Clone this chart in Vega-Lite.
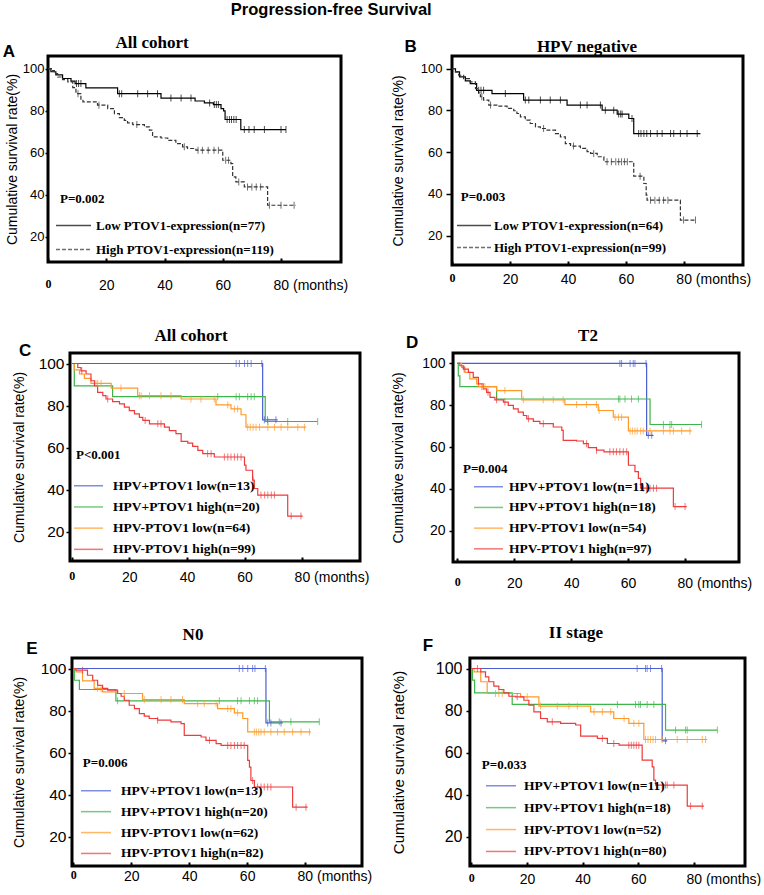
{
"$schema": "https://vega.github.io/schema/vega-lite/v6.json",
"padding": {"left": 2, "top": 2, "right": 0, "bottom": 0},
"background": "white",
"title": {"text": "Progression-free Survival", "font": "Liberation Sans", "fontSize": 16.5, "fontWeight": "bold", "anchor": "start", "frame": "bounds", "dx": 228, "offset": 2, "color": "black", "baseline": "alphabetic"},
"resolve": {"scale": {"color": "independent", "strokeDash": "independent"}, "legend": {"color": "independent", "strokeDash": "independent"}},
"datasets": {
"km": [
{"p":"A","g":"lo","t":0,"s":100},{"p":"A","g":"lo","t":1,"s":98.5},{"p":"A","g":"lo","t":2.7,"s":97},{"p":"A","g":"lo","t":5,"s":95.3},{"p":"A","g":"lo","t":7.9,"s":94},{"p":"A","g":"lo","t":9.3,"s":92.9},{"p":"A","g":"lo","t":13,"s":90.8},{"p":"A","g":"lo","t":23.9,"s":88.1},{"p":"A","g":"lo","t":38.8,"s":86},{"p":"A","g":"lo","t":50.5,"s":84.6},{"p":"A","g":"lo","t":53.7,"s":83.7},{"p":"A","g":"lo","t":56.8,"s":82.9},{"p":"A","g":"lo","t":59.4,"s":81},{"p":"A","g":"lo","t":60.3,"s":79.9},{"p":"A","g":"lo","t":60.8,"s":75.8},{"p":"A","g":"lo","t":66.2,"s":71},{"p":"A","g":"lo","t":81.7,"s":71},
{"p":"A","g":"hi","t":0,"s":100},{"p":"A","g":"hi","t":1.5,"s":99},{"p":"A","g":"hi","t":2.2,"s":97.6},{"p":"A","g":"hi","t":3.3,"s":96},{"p":"A","g":"hi","t":5,"s":94.8},{"p":"A","g":"hi","t":6.8,"s":93.7},{"p":"A","g":"hi","t":8.5,"s":91},{"p":"A","g":"hi","t":9.6,"s":88.1},{"p":"A","g":"hi","t":11.3,"s":85.5},{"p":"A","g":"hi","t":12,"s":84.2},{"p":"A","g":"hi","t":17,"s":82.6},{"p":"A","g":"hi","t":20.5,"s":81},{"p":"A","g":"hi","t":22.8,"s":78.6},{"p":"A","g":"hi","t":24.5,"s":76.7},{"p":"A","g":"hi","t":26.2,"s":75.4},{"p":"A","g":"hi","t":27.3,"s":74.2},{"p":"A","g":"hi","t":29.1,"s":73.4},{"p":"A","g":"hi","t":33.1,"s":72.3},{"p":"A","g":"hi","t":34.8,"s":70.7},{"p":"A","g":"hi","t":35.9,"s":67.5},{"p":"A","g":"hi","t":38.8,"s":67},{"p":"A","g":"hi","t":41.1,"s":65.9},{"p":"A","g":"hi","t":43.9,"s":64.3},{"p":"A","g":"hi","t":46.2,"s":62.8},{"p":"A","g":"hi","t":47.9,"s":62},{"p":"A","g":"hi","t":50.8,"s":61.2},{"p":"A","g":"hi","t":60,"s":56.4},{"p":"A","g":"hi","t":62.8,"s":54.8},{"p":"A","g":"hi","t":63.4,"s":48.5},{"p":"A","g":"hi","t":64.5,"s":46.1},{"p":"A","g":"hi","t":67.4,"s":43.7},{"p":"A","g":"hi","t":75.4,"s":35},{"p":"A","g":"hi","t":85.1,"s":35},
{"p":"B","g":"lo","t":0,"s":100},{"p":"B","g":"lo","t":1.2,"s":98.4},{"p":"B","g":"lo","t":2.6,"s":96},{"p":"B","g":"lo","t":4.6,"s":94.1},{"p":"B","g":"lo","t":6.3,"s":92.8},{"p":"B","g":"lo","t":8.5,"s":89.6},{"p":"B","g":"lo","t":13.8,"s":88},{"p":"B","g":"lo","t":24.7,"s":84.9},{"p":"B","g":"lo","t":39.7,"s":82.5},{"p":"B","g":"lo","t":51.8,"s":80.1},{"p":"B","g":"lo","t":57,"s":78.2},{"p":"B","g":"lo","t":61,"s":76.1},{"p":"B","g":"lo","t":62.7,"s":68.9},{"p":"B","g":"lo","t":85.7,"s":68.9},
{"p":"B","g":"hi","t":0,"s":100},{"p":"B","g":"hi","t":1.2,"s":98.4},{"p":"B","g":"hi","t":2.3,"s":96.8},{"p":"B","g":"hi","t":4,"s":95.2},{"p":"B","g":"hi","t":6.3,"s":93.6},{"p":"B","g":"hi","t":8.1,"s":90.4},{"p":"B","g":"hi","t":9.2,"s":88.4},{"p":"B","g":"hi","t":9.8,"s":86.5},{"p":"B","g":"hi","t":10.9,"s":84.9},{"p":"B","g":"hi","t":12.7,"s":82.5},{"p":"B","g":"hi","t":15.5,"s":82},{"p":"B","g":"hi","t":19,"s":80.9},{"p":"B","g":"hi","t":21.3,"s":79.8},{"p":"B","g":"hi","t":22.4,"s":78.5},{"p":"B","g":"hi","t":23.6,"s":76.9},{"p":"B","g":"hi","t":25.3,"s":75.3},{"p":"B","g":"hi","t":27,"s":73.7},{"p":"B","g":"hi","t":28.8,"s":72.1},{"p":"B","g":"hi","t":30.5,"s":71.3},{"p":"B","g":"hi","t":32.8,"s":70.5},{"p":"B","g":"hi","t":35.7,"s":68.9},{"p":"B","g":"hi","t":37.4,"s":67.3},{"p":"B","g":"hi","t":39.1,"s":64.1},{"p":"B","g":"hi","t":40.9,"s":62.9},{"p":"B","g":"hi","t":44.3,"s":61.8},{"p":"B","g":"hi","t":46.6,"s":60.2},{"p":"B","g":"hi","t":47.8,"s":59.4},{"p":"B","g":"hi","t":50.1,"s":57.8},{"p":"B","g":"hi","t":52.4,"s":55.4},{"p":"B","g":"hi","t":62.7,"s":48.5},{"p":"B","g":"hi","t":66.2,"s":45},{"p":"B","g":"hi","t":67,"s":39.4},{"p":"B","g":"hi","t":67.3,"s":37},{"p":"B","g":"hi","t":78.8,"s":27.5},{"p":"B","g":"hi","t":84,"s":27.5},
{"p":"C","g":"plo","t":0,"s":100},{"p":"C","g":"plo","t":66.3,"s":73.2},{"p":"C","g":"plo","t":71.5,"s":73.2},
{"p":"C","g":"phi","t":0,"s":100},{"p":"C","g":"phi","t":0.9,"s":89.4},{"p":"C","g":"phi","t":14.2,"s":84.2},{"p":"C","g":"phi","t":67.2,"s":72.4},{"p":"C","g":"phi","t":85.4,"s":72.4},
{"p":"C","g":"nlo","t":0,"s":100},{"p":"C","g":"nlo","t":0.9,"s":97},{"p":"C","g":"nlo","t":2.7,"s":95},{"p":"C","g":"nlo","t":4.4,"s":92.9},{"p":"C","g":"nlo","t":6.7,"s":90.5},{"p":"C","g":"nlo","t":13.7,"s":88.3},{"p":"C","g":"nlo","t":22.9,"s":84.7},{"p":"C","g":"nlo","t":38,"s":83.1},{"p":"C","g":"nlo","t":50.1,"s":80.3},{"p":"C","g":"nlo","t":55.3,"s":78.4},{"p":"C","g":"nlo","t":58.8,"s":75.6},{"p":"C","g":"nlo","t":60.5,"s":69.7},{"p":"C","g":"nlo","t":81.4,"s":69.7},
{"p":"C","g":"nhi","t":0,"s":100},{"p":"C","g":"nhi","t":2.1,"s":98.1},{"p":"C","g":"nhi","t":3.2,"s":96.5},{"p":"C","g":"nhi","t":5,"s":95},{"p":"C","g":"nhi","t":6.7,"s":91.8},{"p":"C","g":"nhi","t":7.9,"s":89.4},{"p":"C","g":"nhi","t":9,"s":86.3},{"p":"C","g":"nhi","t":10.8,"s":84.7},{"p":"C","g":"nhi","t":11.9,"s":83.1},{"p":"C","g":"nhi","t":14.2,"s":81.9},{"p":"C","g":"nhi","t":16.6,"s":80.8},{"p":"C","g":"nhi","t":18.3,"s":79.2},{"p":"C","g":"nhi","t":20,"s":77.6},{"p":"C","g":"nhi","t":21.8,"s":76},{"p":"C","g":"nhi","t":23.5,"s":74.4},{"p":"C","g":"nhi","t":24.7,"s":72.9},{"p":"C","g":"nhi","t":27,"s":71.3},{"p":"C","g":"nhi","t":32.2,"s":69.7},{"p":"C","g":"nhi","t":33.9,"s":68.1},{"p":"C","g":"nhi","t":36.2,"s":66.6},{"p":"C","g":"nhi","t":38,"s":62.9},{"p":"C","g":"nhi","t":40.3,"s":62.1},{"p":"C","g":"nhi","t":42,"s":60.6},{"p":"C","g":"nhi","t":43.8,"s":58.7},{"p":"C","g":"nhi","t":45.5,"s":57.1},{"p":"C","g":"nhi","t":49.5,"s":55.5},{"p":"C","g":"nhi","t":60,"s":51.6},{"p":"C","g":"nhi","t":60.5,"s":49.2},{"p":"C","g":"nhi","t":62.8,"s":44.5},{"p":"C","g":"nhi","t":63.4,"s":40.5},{"p":"C","g":"nhi","t":64.6,"s":37.4},{"p":"C","g":"nhi","t":75,"s":27.4},{"p":"C","g":"nhi","t":80.2,"s":27.4},
{"p":"D","g":"plo","t":0,"s":100},{"p":"D","g":"plo","t":66.5,"s":65.6},{"p":"D","g":"plo","t":68.9,"s":65.6},
{"p":"D","g":"phi","t":0,"s":100},{"p":"D","g":"phi","t":0.35,"s":94.1},{"p":"D","g":"phi","t":0.9,"s":88.9},{"p":"D","g":"phi","t":13.8,"s":83},{"p":"D","g":"phi","t":67.7,"s":70.8},{"p":"D","g":"phi","t":85.8,"s":70.8},
{"p":"D","g":"nlo","t":0,"s":100},{"p":"D","g":"nlo","t":1.5,"s":98.1},{"p":"D","g":"nlo","t":2.7,"s":95.7},{"p":"D","g":"nlo","t":4.4,"s":92.6},{"p":"D","g":"nlo","t":6.8,"s":90.2},{"p":"D","g":"nlo","t":7.4,"s":88.9},{"p":"D","g":"nlo","t":13.8,"s":87},{"p":"D","g":"nlo","t":22.6,"s":82.6},{"p":"D","g":"nlo","t":37.8,"s":80.3},{"p":"D","g":"nlo","t":49.5,"s":77.5},{"p":"D","g":"nlo","t":54.8,"s":74.3},{"p":"D","g":"nlo","t":60.1,"s":67.7},{"p":"D","g":"nlo","t":82.3,"s":67.7},
{"p":"D","g":"nhi","t":0,"s":100},{"p":"D","g":"nhi","t":0.9,"s":98.9},{"p":"D","g":"nhi","t":2.1,"s":97.3},{"p":"D","g":"nhi","t":3.9,"s":95.7},{"p":"D","g":"nhi","t":5.6,"s":93.3},{"p":"D","g":"nhi","t":7.4,"s":90.2},{"p":"D","g":"nhi","t":9.1,"s":87.8},{"p":"D","g":"nhi","t":10.3,"s":86.2},{"p":"D","g":"nhi","t":11.5,"s":83.8},{"p":"D","g":"nhi","t":13.2,"s":82.6},{"p":"D","g":"nhi","t":16.2,"s":81.5},{"p":"D","g":"nhi","t":17.9,"s":79.9},{"p":"D","g":"nhi","t":19.7,"s":78.3},{"p":"D","g":"nhi","t":21.4,"s":76.7},{"p":"D","g":"nhi","t":23.2,"s":75.1},{"p":"D","g":"nhi","t":24.4,"s":73.5},{"p":"D","g":"nhi","t":26.7,"s":72.3},{"p":"D","g":"nhi","t":29,"s":71.2},{"p":"D","g":"nhi","t":33.7,"s":69.6},{"p":"D","g":"nhi","t":36.7,"s":68},{"p":"D","g":"nhi","t":37.2,"s":63.2},{"p":"D","g":"nhi","t":41.9,"s":62.9},{"p":"D","g":"nhi","t":44.3,"s":61.6},{"p":"D","g":"nhi","t":46,"s":59.7},{"p":"D","g":"nhi","t":48.9,"s":58.5},{"p":"D","g":"nhi","t":51.5,"s":57.7},{"p":"D","g":"nhi","t":60.1,"s":51.3},{"p":"D","g":"nhi","t":62.4,"s":48.2},{"p":"D","g":"nhi","t":63.6,"s":45},{"p":"D","g":"nhi","t":64.4,"s":40.3},{"p":"D","g":"nhi","t":75.9,"s":31.5},{"p":"D","g":"nhi","t":80.6,"s":31.5},
{"p":"E","g":"plo","t":0,"s":100},{"p":"E","g":"plo","t":66.5,"s":74.1},{"p":"E","g":"plo","t":72.3,"s":74.1},
{"p":"E","g":"phi","t":0,"s":100},{"p":"E","g":"phi","t":0.35,"s":94.4},{"p":"E","g":"phi","t":2.1,"s":90},{"p":"E","g":"phi","t":14.7,"s":84.6},{"p":"E","g":"phi","t":67.7,"s":74.6},{"p":"E","g":"phi","t":84.9,"s":74.6},
{"p":"E","g":"nlo","t":0,"s":100},{"p":"E","g":"nlo","t":0.9,"s":98.4},{"p":"E","g":"nlo","t":3.2,"s":94.1},{"p":"E","g":"nlo","t":7.2,"s":90.5},{"p":"E","g":"nlo","t":10.1,"s":88.9},{"p":"E","g":"nlo","t":14.7,"s":88.1},{"p":"E","g":"nlo","t":23.9,"s":85.2},{"p":"E","g":"nlo","t":38.3,"s":83.3},{"p":"E","g":"nlo","t":49.8,"s":80.9},{"p":"E","g":"nlo","t":55.6,"s":78.9},{"p":"E","g":"nlo","t":58.5,"s":76.2},{"p":"E","g":"nlo","t":60.2,"s":69.8},{"p":"E","g":"nlo","t":82,"s":69.8},
{"p":"E","g":"nhi","t":0,"s":100},{"p":"E","g":"nhi","t":0.9,"s":99.2},{"p":"E","g":"nhi","t":4.9,"s":96.8},{"p":"E","g":"nhi","t":6.7,"s":94.4},{"p":"E","g":"nhi","t":8.4,"s":92},{"p":"E","g":"nhi","t":10.1,"s":90.5},{"p":"E","g":"nhi","t":11.9,"s":89.7},{"p":"E","g":"nhi","t":15.3,"s":88.1},{"p":"E","g":"nhi","t":16.5,"s":86.8},{"p":"E","g":"nhi","t":17.6,"s":84.9},{"p":"E","g":"nhi","t":19.3,"s":82.5},{"p":"E","g":"nhi","t":21.1,"s":80.9},{"p":"E","g":"nhi","t":22.8,"s":78.5},{"p":"E","g":"nhi","t":24.5,"s":77.3},{"p":"E","g":"nhi","t":26.2,"s":76.2},{"p":"E","g":"nhi","t":29.1,"s":75.4},{"p":"E","g":"nhi","t":33.7,"s":74.6},{"p":"E","g":"nhi","t":37.2,"s":73.8},{"p":"E","g":"nhi","t":38.3,"s":68.2},{"p":"E","g":"nhi","t":44.1,"s":67.4},{"p":"E","g":"nhi","t":45.8,"s":65.8},{"p":"E","g":"nhi","t":49.3,"s":64.2},{"p":"E","g":"nhi","t":51,"s":63.4},{"p":"E","g":"nhi","t":60.2,"s":56.3},{"p":"E","g":"nhi","t":60.8,"s":53.1},{"p":"E","g":"nhi","t":61.3,"s":46.7},{"p":"E","g":"nhi","t":62.5,"s":43.6},{"p":"E","g":"nhi","t":75.7,"s":34},{"p":"E","g":"nhi","t":80.9,"s":34},
{"p":"F","g":"plo","t":0,"s":100},{"p":"F","g":"plo","t":68.6,"s":65.6},{"p":"F","g":"plo","t":70.4,"s":65.6},
{"p":"F","g":"phi","t":0,"s":100},{"p":"F","g":"phi","t":0.4,"s":94.5},{"p":"F","g":"phi","t":1.2,"s":88.4},{"p":"F","g":"phi","t":14.7,"s":82.9},{"p":"F","g":"phi","t":69.8,"s":70.7},{"p":"F","g":"phi","t":88.4,"s":70.7},
{"p":"F","g":"nlo","t":0,"s":100},{"p":"F","g":"nlo","t":1,"s":98.4},{"p":"F","g":"nlo","t":3.4,"s":93.7},{"p":"F","g":"nlo","t":5.7,"s":88.1},{"p":"F","g":"nlo","t":17.7,"s":86.5},{"p":"F","g":"nlo","t":24.3,"s":82.1},{"p":"F","g":"nlo","t":42.9,"s":79.4},{"p":"F","g":"nlo","t":51.2,"s":76.2},{"p":"F","g":"nlo","t":56.6,"s":73.9},{"p":"F","g":"nlo","t":62,"s":66.2},{"p":"F","g":"nlo","t":84.8,"s":66.2},
{"p":"F","g":"nhi","t":0,"s":100},{"p":"F","g":"nhi","t":3.4,"s":98.4},{"p":"F","g":"nhi","t":5.1,"s":96},{"p":"F","g":"nhi","t":6.3,"s":93.7},{"p":"F","g":"nhi","t":8.1,"s":91.6},{"p":"F","g":"nhi","t":9.9,"s":90},{"p":"F","g":"nhi","t":11.7,"s":88.4},{"p":"F","g":"nhi","t":13.5,"s":86.8},{"p":"F","g":"nhi","t":15.9,"s":86.5},{"p":"F","g":"nhi","t":18.9,"s":84.9},{"p":"F","g":"nhi","t":20.7,"s":82.6},{"p":"F","g":"nhi","t":22.5,"s":79.4},{"p":"F","g":"nhi","t":24.9,"s":76.2},{"p":"F","g":"nhi","t":27.3,"s":74.6},{"p":"F","g":"nhi","t":32.1,"s":73.9},{"p":"F","g":"nhi","t":37.5,"s":73.1},{"p":"F","g":"nhi","t":39.3,"s":67.8},{"p":"F","g":"nhi","t":45.3,"s":66.7},{"p":"F","g":"nhi","t":48.9,"s":64.3},{"p":"F","g":"nhi","t":53.1,"s":63.5},{"p":"F","g":"nhi","t":61.4,"s":56.4},{"p":"F","g":"nhi","t":65,"s":53.2},{"p":"F","g":"nhi","t":65.6,"s":46.9},{"p":"F","g":"nhi","t":66.2,"s":44.5},{"p":"F","g":"nhi","t":77.6,"s":34.5},{"p":"F","g":"nhi","t":83.6,"s":34.5}
],
"cens": [
{"p":"A","g":"lo","t":9.8,"s":92.9},{"p":"A","g":"lo","t":10.5,"s":92.9},{"p":"A","g":"lo","t":11.3,"s":92.9},{"p":"A","g":"lo","t":24.5,"s":88.1},{"p":"A","g":"lo","t":25.3,"s":88.1},{"p":"A","g":"lo","t":30.8,"s":88.1},{"p":"A","g":"lo","t":34.2,"s":88.1},{"p":"A","g":"lo","t":37.6,"s":88.1},{"p":"A","g":"lo","t":42.2,"s":86},{"p":"A","g":"lo","t":45.7,"s":86},{"p":"A","g":"lo","t":49.1,"s":86},{"p":"A","g":"lo","t":55.5,"s":83.7},{"p":"A","g":"lo","t":57.1,"s":82.9},{"p":"A","g":"lo","t":57.8,"s":82.9},{"p":"A","g":"lo","t":58.5,"s":82.9},{"p":"A","g":"lo","t":61.5,"s":75.8},{"p":"A","g":"lo","t":62.3,"s":75.8},{"p":"A","g":"lo","t":63,"s":75.8},{"p":"A","g":"lo","t":63.8,"s":75.8},{"p":"A","g":"lo","t":64.6,"s":75.8},{"p":"A","g":"lo","t":67.4,"s":71},{"p":"A","g":"lo","t":69,"s":71},{"p":"A","g":"lo","t":70.8,"s":71},{"p":"A","g":"lo","t":74.3,"s":71},{"p":"A","g":"lo","t":80,"s":71},{"p":"A","g":"lo","t":81.7,"s":71},
{"p":"A","g":"hi","t":10.3,"s":88.1},{"p":"A","g":"hi","t":17.5,"s":82.6},{"p":"A","g":"hi","t":30.5,"s":73.4},{"p":"A","g":"hi","t":46.8,"s":62.8},{"p":"A","g":"hi","t":51.5,"s":61.2},{"p":"A","g":"hi","t":53,"s":61.2},{"p":"A","g":"hi","t":55,"s":61.2},{"p":"A","g":"hi","t":57,"s":61.2},{"p":"A","g":"hi","t":58.5,"s":61.2},{"p":"A","g":"hi","t":61,"s":56.4},{"p":"A","g":"hi","t":62,"s":56.4},{"p":"A","g":"hi","t":65.5,"s":46.1},{"p":"A","g":"hi","t":68.5,"s":43.7},{"p":"A","g":"hi","t":70,"s":43.7},{"p":"A","g":"hi","t":71.5,"s":43.7},{"p":"A","g":"hi","t":73,"s":43.7},{"p":"A","g":"hi","t":76,"s":35},{"p":"A","g":"hi","t":80,"s":35},{"p":"A","g":"hi","t":84.5,"s":35},
{"p":"B","g":"lo","t":9.2,"s":89.6},{"p":"B","g":"lo","t":10,"s":89.6},{"p":"B","g":"lo","t":10.9,"s":89.6},{"p":"B","g":"lo","t":18.4,"s":88},{"p":"B","g":"lo","t":25.3,"s":84.9},{"p":"B","g":"lo","t":26.5,"s":84.9},{"p":"B","g":"lo","t":30.5,"s":84.9},{"p":"B","g":"lo","t":33.9,"s":84.9},{"p":"B","g":"lo","t":37.4,"s":84.9},{"p":"B","g":"lo","t":44.3,"s":82.5},{"p":"B","g":"lo","t":46.6,"s":82.5},{"p":"B","g":"lo","t":51.2,"s":82.5},{"p":"B","g":"lo","t":52.9,"s":80.1},{"p":"B","g":"lo","t":55.8,"s":80.1},{"p":"B","g":"lo","t":57.5,"s":78.2},{"p":"B","g":"lo","t":58.2,"s":78.2},{"p":"B","g":"lo","t":58.7,"s":78.2},{"p":"B","g":"lo","t":62.1,"s":76.1},{"p":"B","g":"lo","t":64.4,"s":68.9},{"p":"B","g":"lo","t":65.2,"s":68.9},{"p":"B","g":"lo","t":66.2,"s":68.9},{"p":"B","g":"lo","t":67.2,"s":68.9},{"p":"B","g":"lo","t":68.5,"s":68.9},{"p":"B","g":"lo","t":70.8,"s":68.9},{"p":"B","g":"lo","t":72.5,"s":68.9},{"p":"B","g":"lo","t":75.4,"s":68.9},{"p":"B","g":"lo","t":76.5,"s":68.9},{"p":"B","g":"lo","t":78.8,"s":68.9},{"p":"B","g":"lo","t":81.1,"s":68.9},{"p":"B","g":"lo","t":84.6,"s":68.9},
{"p":"B","g":"hi","t":10.3,"s":86.5},{"p":"B","g":"hi","t":13.3,"s":82.5},{"p":"B","g":"hi","t":31.6,"s":71.3},{"p":"B","g":"hi","t":41.9,"s":62.9},{"p":"B","g":"hi","t":48.9,"s":59.4},{"p":"B","g":"hi","t":53.5,"s":55.4},{"p":"B","g":"hi","t":55,"s":55.4},{"p":"B","g":"hi","t":56.5,"s":55.4},{"p":"B","g":"hi","t":57.5,"s":55.4},{"p":"B","g":"hi","t":58.5,"s":55.4},{"p":"B","g":"hi","t":59.5,"s":55.4},{"p":"B","g":"hi","t":60.5,"s":55.4},{"p":"B","g":"hi","t":64.9,"s":48.5},{"p":"B","g":"hi","t":68.5,"s":37},{"p":"B","g":"hi","t":70,"s":37},{"p":"B","g":"hi","t":71.5,"s":37},{"p":"B","g":"hi","t":73,"s":37},{"p":"B","g":"hi","t":74.5,"s":37},{"p":"B","g":"hi","t":79.9,"s":27.5},{"p":"B","g":"hi","t":84,"s":27.5},
{"p":"C","g":"plo","t":57.1,"s":100},{"p":"C","g":"plo","t":58.2,"s":100},{"p":"C","g":"plo","t":60,"s":100},{"p":"C","g":"plo","t":61.1,"s":100},{"p":"C","g":"plo","t":62.3,"s":100},{"p":"C","g":"plo","t":66,"s":100},{"p":"C","g":"plo","t":66.9,"s":73.2},{"p":"C","g":"plo","t":68,"s":73.2},{"p":"C","g":"plo","t":70.9,"s":73.2},
{"p":"C","g":"phi","t":50.7,"s":84.2},{"p":"C","g":"phi","t":57.1,"s":84.2},{"p":"C","g":"phi","t":58.2,"s":84.2},{"p":"C","g":"phi","t":61.1,"s":84.2},{"p":"C","g":"phi","t":62.3,"s":84.2},{"p":"C","g":"phi","t":63.4,"s":84.2},{"p":"C","g":"phi","t":68.1,"s":72.4},{"p":"C","g":"phi","t":75,"s":72.4},{"p":"C","g":"phi","t":85.4,"s":72.4},
{"p":"C","g":"nlo","t":8.4,"s":90.5},{"p":"C","g":"nlo","t":9,"s":90.5},{"p":"C","g":"nlo","t":10.2,"s":90.5},{"p":"C","g":"nlo","t":17.1,"s":88.3},{"p":"C","g":"nlo","t":23.5,"s":84.7},{"p":"C","g":"nlo","t":24.1,"s":84.7},{"p":"C","g":"nlo","t":27,"s":84.7},{"p":"C","g":"nlo","t":31,"s":84.7},{"p":"C","g":"nlo","t":34.5,"s":84.7},{"p":"C","g":"nlo","t":41.4,"s":83.1},{"p":"C","g":"nlo","t":44.9,"s":83.1},{"p":"C","g":"nlo","t":49.5,"s":83.1},{"p":"C","g":"nlo","t":54.2,"s":80.3},{"p":"C","g":"nlo","t":56.5,"s":78.4},{"p":"C","g":"nlo","t":57.6,"s":78.4},{"p":"C","g":"nlo","t":61.1,"s":69.7},{"p":"C","g":"nlo","t":62,"s":69.7},{"p":"C","g":"nlo","t":63,"s":69.7},{"p":"C","g":"nlo","t":64,"s":69.7},{"p":"C","g":"nlo","t":65.2,"s":69.7},{"p":"C","g":"nlo","t":68.1,"s":69.7},{"p":"C","g":"nlo","t":70.4,"s":69.7},{"p":"C","g":"nlo","t":72.7,"s":69.7},{"p":"C","g":"nlo","t":75,"s":69.7},{"p":"C","g":"nlo","t":78.5,"s":69.7},{"p":"C","g":"nlo","t":80.8,"s":69.7},
{"p":"C","g":"nhi","t":3.5,"s":96.5},{"p":"C","g":"nhi","t":12.5,"s":83.1},{"p":"C","g":"nhi","t":25.5,"s":72.9},{"p":"C","g":"nhi","t":29.9,"s":71.3},{"p":"C","g":"nhi","t":31,"s":71.3},{"p":"C","g":"nhi","t":47.2,"s":57.1},{"p":"C","g":"nhi","t":48.4,"s":57.1},{"p":"C","g":"nhi","t":53,"s":55.5},{"p":"C","g":"nhi","t":54.2,"s":55.5},{"p":"C","g":"nhi","t":55.3,"s":55.5},{"p":"C","g":"nhi","t":56.5,"s":55.5},{"p":"C","g":"nhi","t":57.6,"s":55.5},{"p":"C","g":"nhi","t":58.8,"s":55.5},{"p":"C","g":"nhi","t":63,"s":44.5},{"p":"C","g":"nhi","t":65.7,"s":37.4},{"p":"C","g":"nhi","t":67,"s":37.4},{"p":"C","g":"nhi","t":68.1,"s":37.4},{"p":"C","g":"nhi","t":69.3,"s":37.4},{"p":"C","g":"nhi","t":70.4,"s":37.4},{"p":"C","g":"nhi","t":76.2,"s":27.4},{"p":"C","g":"nhi","t":79.6,"s":27.4},
{"p":"D","g":"plo","t":57.1,"s":100},{"p":"D","g":"plo","t":57.7,"s":100},{"p":"D","g":"plo","t":60.7,"s":100},{"p":"D","g":"plo","t":61.8,"s":100},{"p":"D","g":"plo","t":62.4,"s":100},{"p":"D","g":"plo","t":66.3,"s":100},{"p":"D","g":"plo","t":67.1,"s":65.6},{"p":"D","g":"plo","t":68.3,"s":65.6},
{"p":"D","g":"phi","t":56.6,"s":83},{"p":"D","g":"phi","t":57.1,"s":83},{"p":"D","g":"phi","t":58.9,"s":83},{"p":"D","g":"phi","t":61.2,"s":83},{"p":"D","g":"phi","t":63.6,"s":83},{"p":"D","g":"phi","t":72.4,"s":70.8},{"p":"D","g":"phi","t":74.7,"s":70.8},{"p":"D","g":"phi","t":75.3,"s":70.8},{"p":"D","g":"phi","t":85.8,"s":70.8},
{"p":"D","g":"nlo","t":8.5,"s":88.9},{"p":"D","g":"nlo","t":9.1,"s":88.9},{"p":"D","g":"nlo","t":9.7,"s":88.9},{"p":"D","g":"nlo","t":16.7,"s":87},{"p":"D","g":"nlo","t":23.2,"s":82.6},{"p":"D","g":"nlo","t":30.2,"s":82.6},{"p":"D","g":"nlo","t":33.7,"s":82.6},{"p":"D","g":"nlo","t":37.2,"s":82.6},{"p":"D","g":"nlo","t":41.9,"s":80.3},{"p":"D","g":"nlo","t":45.4,"s":80.3},{"p":"D","g":"nlo","t":48.9,"s":80.3},{"p":"D","g":"nlo","t":49.8,"s":77.5},{"p":"D","g":"nlo","t":55.4,"s":74.3},{"p":"D","g":"nlo","t":56.6,"s":74.3},{"p":"D","g":"nlo","t":57.7,"s":74.3},{"p":"D","g":"nlo","t":60.7,"s":67.7},{"p":"D","g":"nlo","t":61.5,"s":67.7},{"p":"D","g":"nlo","t":62.4,"s":67.7},{"p":"D","g":"nlo","t":63.2,"s":67.7},{"p":"D","g":"nlo","t":64.4,"s":67.7},{"p":"D","g":"nlo","t":65.3,"s":67.7},{"p":"D","g":"nlo","t":67.7,"s":67.7},{"p":"D","g":"nlo","t":72.4,"s":67.7},{"p":"D","g":"nlo","t":74.7,"s":67.7},{"p":"D","g":"nlo","t":75.9,"s":67.7},{"p":"D","g":"nlo","t":78.8,"s":67.7},{"p":"D","g":"nlo","t":81.7,"s":67.7},
{"p":"D","g":"nhi","t":2.4,"s":97.3},{"p":"D","g":"nhi","t":10.8,"s":86.2},{"p":"D","g":"nhi","t":13.8,"s":82.6},{"p":"D","g":"nhi","t":16.7,"s":81.5},{"p":"D","g":"nhi","t":25,"s":73.5},{"p":"D","g":"nhi","t":30.2,"s":71.2},{"p":"D","g":"nhi","t":45.4,"s":61.6},{"p":"D","g":"nhi","t":48.9,"s":58.5},{"p":"D","g":"nhi","t":53.6,"s":57.7},{"p":"D","g":"nhi","t":54.8,"s":57.7},{"p":"D","g":"nhi","t":55.9,"s":57.7},{"p":"D","g":"nhi","t":57.1,"s":57.7},{"p":"D","g":"nhi","t":58.3,"s":57.7},{"p":"D","g":"nhi","t":59.5,"s":57.7},{"p":"D","g":"nhi","t":65.3,"s":40.3},{"p":"D","g":"nhi","t":66.5,"s":40.3},{"p":"D","g":"nhi","t":67.7,"s":40.3},{"p":"D","g":"nhi","t":68.9,"s":40.3},{"p":"D","g":"nhi","t":70,"s":40.3},{"p":"D","g":"nhi","t":76.5,"s":31.5},{"p":"D","g":"nhi","t":80,"s":31.5},
{"p":"E","g":"plo","t":57.3,"s":100},{"p":"E","g":"plo","t":58.5,"s":100},{"p":"E","g":"plo","t":60.2,"s":100},{"p":"E","g":"plo","t":61.9,"s":100},{"p":"E","g":"plo","t":62.7,"s":100},{"p":"E","g":"plo","t":66.3,"s":100},{"p":"E","g":"plo","t":67.1,"s":74.1},{"p":"E","g":"plo","t":68.2,"s":74.1},{"p":"E","g":"plo","t":71.7,"s":74.1},
{"p":"E","g":"phi","t":15.3,"s":84.6},{"p":"E","g":"phi","t":50.4,"s":84.6},{"p":"E","g":"phi","t":56.7,"s":84.6},{"p":"E","g":"phi","t":57.9,"s":84.6},{"p":"E","g":"phi","t":60.8,"s":84.6},{"p":"E","g":"phi","t":62.5,"s":84.6},{"p":"E","g":"phi","t":63.6,"s":84.6},{"p":"E","g":"phi","t":71.1,"s":74.6},{"p":"E","g":"phi","t":75.1,"s":74.6},{"p":"E","g":"phi","t":84.9,"s":74.6},
{"p":"E","g":"nlo","t":8.4,"s":90.5},{"p":"E","g":"nlo","t":9.6,"s":90.5},{"p":"E","g":"nlo","t":17.6,"s":88.1},{"p":"E","g":"nlo","t":24.5,"s":85.2},{"p":"E","g":"nlo","t":30.3,"s":85.2},{"p":"E","g":"nlo","t":33.7,"s":85.2},{"p":"E","g":"nlo","t":37.7,"s":85.2},{"p":"E","g":"nlo","t":42.9,"s":83.3},{"p":"E","g":"nlo","t":45.2,"s":83.3},{"p":"E","g":"nlo","t":49.3,"s":83.3},{"p":"E","g":"nlo","t":53.3,"s":80.9},{"p":"E","g":"nlo","t":54.4,"s":80.9},{"p":"E","g":"nlo","t":56.7,"s":78.9},{"p":"E","g":"nlo","t":62.5,"s":69.8},{"p":"E","g":"nlo","t":63.2,"s":69.8},{"p":"E","g":"nlo","t":64,"s":69.8},{"p":"E","g":"nlo","t":64.8,"s":69.8},{"p":"E","g":"nlo","t":65.9,"s":69.8},{"p":"E","g":"nlo","t":68.2,"s":69.8},{"p":"E","g":"nlo","t":70.5,"s":69.8},{"p":"E","g":"nlo","t":72.8,"s":69.8},{"p":"E","g":"nlo","t":75.7,"s":69.8},{"p":"E","g":"nlo","t":78.6,"s":69.8},{"p":"E","g":"nlo","t":81.5,"s":69.8},
{"p":"E","g":"nhi","t":3.2,"s":99.2},{"p":"E","g":"nhi","t":29.1,"s":75.4},{"p":"E","g":"nhi","t":47,"s":65.8},{"p":"E","g":"nhi","t":53.3,"s":63.4},{"p":"E","g":"nhi","t":54.4,"s":63.4},{"p":"E","g":"nhi","t":55.6,"s":63.4},{"p":"E","g":"nhi","t":56.7,"s":63.4},{"p":"E","g":"nhi","t":57.9,"s":63.4},{"p":"E","g":"nhi","t":59,"s":63.4},{"p":"E","g":"nhi","t":61.9,"s":46.7},{"p":"E","g":"nhi","t":63.6,"s":43.6},{"p":"E","g":"nhi","t":64.8,"s":43.6},{"p":"E","g":"nhi","t":65.9,"s":43.6},{"p":"E","g":"nhi","t":67.1,"s":43.6},{"p":"E","g":"nhi","t":68.2,"s":43.6},{"p":"E","g":"nhi","t":76.9,"s":34},{"p":"E","g":"nhi","t":80.3,"s":34},
{"p":"F","g":"plo","t":59.6,"s":100},{"p":"F","g":"plo","t":62.6,"s":100},{"p":"F","g":"plo","t":63.2,"s":100},{"p":"F","g":"plo","t":64.4,"s":100},{"p":"F","g":"plo","t":68.4,"s":100},{"p":"F","g":"plo","t":69.8,"s":65.6},
{"p":"F","g":"phi","t":52.5,"s":82.9},{"p":"F","g":"phi","t":59,"s":82.9},{"p":"F","g":"phi","t":60.2,"s":82.9},{"p":"F","g":"phi","t":60.8,"s":82.9},{"p":"F","g":"phi","t":63.2,"s":82.9},{"p":"F","g":"phi","t":65.6,"s":82.9},{"p":"F","g":"phi","t":73.4,"s":70.7},{"p":"F","g":"phi","t":77,"s":70.7},{"p":"F","g":"phi","t":77.6,"s":70.7},{"p":"F","g":"phi","t":88.4,"s":70.7},
{"p":"F","g":"nlo","t":8.7,"s":88.1},{"p":"F","g":"nlo","t":9.9,"s":88.1},{"p":"F","g":"nlo","t":11.1,"s":88.1},{"p":"F","g":"nlo","t":20.1,"s":86.5},{"p":"F","g":"nlo","t":24.9,"s":82.1},{"p":"F","g":"nlo","t":30.9,"s":82.1},{"p":"F","g":"nlo","t":35.1,"s":82.1},{"p":"F","g":"nlo","t":38.1,"s":82.1},{"p":"F","g":"nlo","t":44.1,"s":79.4},{"p":"F","g":"nlo","t":47.1,"s":79.4},{"p":"F","g":"nlo","t":50.1,"s":79.4},{"p":"F","g":"nlo","t":54.9,"s":76.2},{"p":"F","g":"nlo","t":58.4,"s":73.9},{"p":"F","g":"nlo","t":60.2,"s":73.9},{"p":"F","g":"nlo","t":62.6,"s":66.2},{"p":"F","g":"nlo","t":63.5,"s":66.2},{"p":"F","g":"nlo","t":64.4,"s":66.2},{"p":"F","g":"nlo","t":65.3,"s":66.2},{"p":"F","g":"nlo","t":66.2,"s":66.2},{"p":"F","g":"nlo","t":68.6,"s":66.2},{"p":"F","g":"nlo","t":74,"s":66.2},{"p":"F","g":"nlo","t":77.6,"s":66.2},{"p":"F","g":"nlo","t":83,"s":66.2},{"p":"F","g":"nlo","t":84.2,"s":66.2},
{"p":"F","g":"nhi","t":2.2,"s":100},{"p":"F","g":"nhi","t":16.5,"s":86.5},{"p":"F","g":"nhi","t":29.1,"s":74.6},{"p":"F","g":"nhi","t":47.1,"s":66.7},{"p":"F","g":"nhi","t":51.2,"s":64.3},{"p":"F","g":"nhi","t":56.6,"s":63.5},{"p":"F","g":"nhi","t":57.5,"s":63.5},{"p":"F","g":"nhi","t":58.4,"s":63.5},{"p":"F","g":"nhi","t":59.3,"s":63.5},{"p":"F","g":"nhi","t":60.2,"s":63.5},{"p":"F","g":"nhi","t":68.6,"s":44.5},{"p":"F","g":"nhi","t":69.8,"s":44.5},{"p":"F","g":"nhi","t":70.4,"s":44.5},{"p":"F","g":"nhi","t":72.8,"s":44.5},{"p":"F","g":"nhi","t":78.8,"s":34.5},{"p":"F","g":"nhi","t":83,"s":34.5}
]
},
"columns": 2,
"align": {"row": "each", "column": "none"},
"spacing": {"row": 34, "column": 19},
"concat": [
{"width": 293, "height": 206, "title": {"text": "All cohort", "dx": -42.5, "offset": -9},
"layer": [
{"data": {"values": [{}]}, "mark": {"type": "rect", "filled": false, "stroke": "black", "strokeWidth": 3},
"encoding": {"x": {"datum": 0}, "x2": {"datum": 100.6}, "y": {"datum": 8}, "y2": {"datum": 106}}},
{"data": {"name": "km"}, "transform": [{"filter": "datum.p=='A'"}], "mark": {"type": "line", "interpolate": "step-after", "strokeWidth": 1.2},
"encoding": {
"x": {"field": "t", "type": "quantitative", "scale": {"domain": [0, 100.6], "nice": false, "zero": false}, "axis": {"values": [0,20,40,60,80], "title": null, "labelExpr": "datum.value==80?'80 (months)':datum.label", "labelFontSize": {"condition": {"test": "datum.value==0", "value": 12}, "value": 14}, "labelFont": {"condition": {"test": "datum.value==0", "value": "Liberation Serif"}, "value": "Liberation Sans"}, "labelFontWeight": {"condition": {"test": "datum.value==0", "value": "bold"}, "value": "normal"}, "labelAlign": {"condition": {"test": "datum.value==80", "value": "left"}, "value": "center"}, "labelOffset": {"condition": {"test": "datum.value==80", "value": -8}, "value": 0}, "tickSize": -4, "tickWidth": 2, "labelPadding": 20, "labelBaseline": "top"}},
"y": {"field": "s", "type": "quantitative", "scale": {"domain": [8, 106], "nice": false, "zero": false}, "axis": {"values": [20,40,60,80,100], "title": "Cumulative survival rate(%)", "titleFontSize": 14, "labelFontSize": 13, "tickSize": 3, "tickWidth": 1.5, "labelPadding": 1, "titlePadding": 3}},
"color": {"field": "g", "type": "nominal", "scale": {"domain": ["lo","hi"], "range": ["#000000","#333333"]}, "legend": {"title": null, "orient": "bottom-left", "offset": 5, "padding": 0, "symbolType": "M-1,0H6", "symbolSize": 100, "symbolStrokeWidth": 1.5, "symbolOffset": 1.5, "labelOffset": 28.5, "rowPadding": 10, "labelFontSize": 13, "labelExpr": "datum.value=='lo'?'Low PTOV1-expression(n=77)':'High PTOV1-expression(n=119)'"}},
"strokeDash": {"field": "g", "type": "nominal", "scale": {"domain": ["lo","hi"], "range": [[1,0],[4,2]]}, "legend": {"title": null, "orient": "bottom-left", "offset": 5, "padding": 0, "symbolType": "M-1,0H6", "symbolSize": 100, "symbolStrokeWidth": 1.5, "symbolOffset": 1.5, "labelOffset": 28.5, "rowPadding": 10, "labelFontSize": 13, "labelExpr": "datum.value=='lo'?'Low PTOV1-expression(n=77)':'High PTOV1-expression(n=119)'"}}
}},
{"data": {"name": "cens"}, "transform": [{"filter": "datum.p=='A'"}], "mark": {"type": "tick", "orient": "vertical", "size": 7, "thickness": 1},
"encoding": {"x": {"field": "t", "type": "quantitative"}, "y": {"field": "s", "type": "quantitative"}, "color": {"field": "g", "type": "nominal"}}},
{"data": {"values": [{}]}, "mark": {"type": "text", "font": "Liberation Sans", "fontSize": 17, "fontWeight": "bold", "align": "center", "baseline": "alphabetic", "color": "black"},
"encoding": {"x": {"datum": -13.4}, "y": {"datum": 105.7}, "text": {"value": "A"}}},
{"data": {"values": [{}]}, "mark": {"type": "text", "font": "Liberation Serif", "fontSize": 13, "fontWeight": "bold", "align": "left", "baseline": "middle", "color": "black"},
"encoding": {"x": {"datum": 4.1}, "y": {"datum": 38.1}, "text": {"value": "P=0.002"}}}
]},
{"width": 291, "height": 209, "title": {"text": "HPV negative", "dx": -10.5, "offset": -18},
"layer": [
{"data": {"values": [{}]}, "mark": {"type": "rect", "filled": false, "stroke": "black", "strokeWidth": 3},
"encoding": {"x": {"datum": 0}, "x2": {"datum": 100.4}, "y": {"datum": 6}, "y2": {"datum": 106}}},
{"data": {"name": "km"}, "transform": [{"filter": "datum.p=='B'"}], "mark": {"type": "line", "interpolate": "step-after", "strokeWidth": 1.2},
"encoding": {
"x": {"field": "t", "type": "quantitative", "scale": {"domain": [0, 100.4], "nice": false, "zero": false}, "axis": {"values": [0,20,40,60,80], "title": null, "labelExpr": "datum.value==80?'80 (months)':datum.label", "labelFontSize": {"condition": {"test": "datum.value==0", "value": 12}, "value": 14}, "labelFont": {"condition": {"test": "datum.value==0", "value": "Liberation Serif"}, "value": "Liberation Sans"}, "labelFontWeight": {"condition": {"test": "datum.value==0", "value": "bold"}, "value": "normal"}, "labelAlign": {"condition": {"test": "datum.value==80", "value": "left"}, "value": "center"}, "labelOffset": {"condition": {"test": "datum.value==80", "value": -8}, "value": 0}, "tickSize": -4, "tickWidth": 2, "labelPadding": 11, "labelBaseline": "top"}},
"y": {"field": "s", "type": "quantitative", "scale": {"domain": [6, 106], "nice": false, "zero": false}, "axis": {"values": [20,40,60,80,100], "title": "Cumulative survival rate(%)", "titleFontSize": 14, "labelFontSize": 13, "tickSize": 6, "tickWidth": 1.5, "labelPadding": 4, "titlePadding": 15}},
"color": {"field": "g", "type": "nominal", "scale": {"domain": ["lo","hi"], "range": ["#000000","#333333"]}, "legend": {"title": null, "orient": "bottom-left", "offset": 10, "padding": 0, "symbolType": "M-1,0H5.8", "symbolSize": 100, "symbolStrokeWidth": 1.5, "symbolOffset": -6.5, "labelOffset": 25.5, "rowPadding": 8, "labelFontSize": 13, "labelExpr": "datum.value=='lo'?'Low PTOV1-expression(n=64)':'High PTOV1-expression(n=99)'"}},
"strokeDash": {"field": "g", "type": "nominal", "scale": {"domain": ["lo","hi"], "range": [[1,0],[4,2]]}, "legend": {"title": null, "orient": "bottom-left", "offset": 10, "padding": 0, "symbolType": "M-1,0H5.8", "symbolSize": 100, "symbolStrokeWidth": 1.5, "symbolOffset": -6.5, "labelOffset": 25.5, "rowPadding": 8, "labelFontSize": 13, "labelExpr": "datum.value=='lo'?'Low PTOV1-expression(n=64)':'High PTOV1-expression(n=99)'"}}
}},
{"data": {"name": "cens"}, "transform": [{"filter": "datum.p=='B'"}], "mark": {"type": "tick", "orient": "vertical", "size": 7, "thickness": 1},
"encoding": {"x": {"field": "t", "type": "quantitative"}, "y": {"field": "s", "type": "quantitative"}, "color": {"field": "g", "type": "nominal"}}},
{"data": {"values": [{}]}, "mark": {"type": "text", "font": "Liberation Sans", "fontSize": 17, "fontWeight": "bold", "align": "center", "baseline": "alphabetic", "color": "black"},
"encoding": {"x": {"datum": -14.3}, "y": {"datum": 108.1}, "text": {"value": "B"}}},
{"data": {"values": [{}]}, "mark": {"type": "text", "font": "Liberation Serif", "fontSize": 13, "fontWeight": "bold", "align": "left", "baseline": "middle", "color": "black"},
"encoding": {"x": {"datum": 3.0}, "y": {"datum": 38.3}, "text": {"value": "P=0.003"}}}
]},
{"width": 312, "height": 208, "title": {"text": "All cohort", "dx": -13, "offset": -3},
"layer": [
{"data": {"values": [{}]}, "mark": {"type": "rect", "filled": false, "stroke": "black", "strokeWidth": 3},
"encoding": {"x": {"datum": -0.6}, "x2": {"datum": 100.1}, "y": {"datum": 6}, "y2": {"datum": 105}}},
{"data": {"name": "km"}, "transform": [{"filter": "datum.p=='C'"}], "mark": {"type": "line", "interpolate": "step-after", "strokeWidth": 1.2},
"encoding": {
"x": {"field": "t", "type": "quantitative", "scale": {"domain": [-8.23, 100.1], "nice": false, "zero": false}, "axis": {"values": [0,20,40,60,80], "title": null, "labelExpr": "datum.value==80?'80 (months)':datum.label", "labelFontSize": {"condition": {"test": "datum.value==0", "value": 12}, "value": 14}, "labelFont": {"condition": {"test": "datum.value==0", "value": "Liberation Serif"}, "value": "Liberation Sans"}, "labelFontWeight": {"condition": {"test": "datum.value==0", "value": "bold"}, "value": "normal"}, "labelAlign": {"condition": {"test": "datum.value==80", "value": "left"}, "value": "center"}, "labelOffset": {"condition": {"test": "datum.value==80", "value": -8}, "value": 0}, "tickSize": -4, "tickWidth": 2, "labelPadding": 13, "labelBaseline": "top"}},
"y": {"field": "s", "type": "quantitative", "scale": {"domain": [6, 105], "nice": false, "zero": false}, "axis": {"values": [20,40,60,80,100], "title": "Cumulative survival rate(%)", "titleFontSize": 14, "labelFontSize": 15.5, "tickSize": 4, "tickWidth": 1.5, "labelPadding": 2, "titlePadding": 12, "offset": -22}},
"color": {"field": "g", "type": "nominal", "scale": {"domain": ["plo","phi","nlo","nhi"], "range": ["#4a5ed2","#3cb54a","#ff9a28","#ee3b3b"]}, "legend": {"title": null, "orient": "bottom-left", "offset": 5, "padding": 0, "symbolType": "M-1,0H4.8", "symbolSize": 100, "symbolStrokeWidth": 1.5, "symbolOffset": 19.25, "labelOffset": 27.25, "rowPadding": 6.2, "labelFontSize": 13.5, "labelExpr": "datum.value=='plo'?'HPV+PTOV1 low(n=13)':datum.value=='phi'?'HPV+PTOV1 high(n=20)':datum.value=='nlo'?'HPV-PTOV1 low(n=64)':'HPV-PTOV1 high(n=99)'"}}
}},
{"data": {"name": "cens"}, "transform": [{"filter": "datum.p=='C'"}], "mark": {"type": "tick", "orient": "vertical", "size": 7, "thickness": 1},
"encoding": {"x": {"field": "t", "type": "quantitative"}, "y": {"field": "s", "type": "quantitative"}, "color": {"field": "g", "type": "nominal"}}},
{"data": {"values": [{}]}, "mark": {"type": "text", "font": "Liberation Sans", "fontSize": 17, "fontWeight": "bold", "align": "center", "baseline": "alphabetic", "color": "black"},
"encoding": {"x": {"datum": -16.2}, "y": {"datum": 103.8}, "text": {"value": "C"}}},
{"data": {"values": [{}]}, "mark": {"type": "text", "font": "Liberation Serif", "fontSize": 13, "fontWeight": "bold", "align": "left", "baseline": "middle", "color": "black"},
"encoding": {"x": {"datum": 1.5}, "y": {"datum": 56.4}, "text": {"value": "P<0.001"}}}
]},
{"width": 291, "height": 209, "title": {"text": "T2", "dx": -5.5, "offset": -11},
"layer": [
{"data": {"values": [{}]}, "mark": {"type": "rect", "filled": false, "stroke": "black", "strokeWidth": 3},
"encoding": {"x": {"datum": -1.5}, "x2": {"datum": 98.95}, "y": {"datum": 5}, "y2": {"datum": 105}}},
{"data": {"name": "km"}, "transform": [{"filter": "datum.p=='D'"}], "mark": {"type": "line", "interpolate": "step-after", "strokeWidth": 1.2},
"encoding": {
"x": {"field": "t", "type": "quantitative", "scale": {"domain": [-3.27, 98.95], "nice": false, "zero": false}, "axis": {"values": [0,20,40,60,80], "title": null, "labelExpr": "datum.value==80?'80 (months)':datum.label", "labelFontSize": {"condition": {"test": "datum.value==0", "value": 12}, "value": 14}, "labelFont": {"condition": {"test": "datum.value==0", "value": "Liberation Serif"}, "value": "Liberation Sans"}, "labelFontWeight": {"condition": {"test": "datum.value==0", "value": "bold"}, "value": "normal"}, "labelAlign": {"condition": {"test": "datum.value==80", "value": "left"}, "value": "center"}, "labelOffset": {"condition": {"test": "datum.value==80", "value": -8}, "value": 0}, "tickSize": -4, "tickWidth": 2, "labelPadding": 18, "labelBaseline": "top"}},
"y": {"field": "s", "type": "quantitative", "scale": {"domain": [5, 105], "nice": false, "zero": false}, "axis": {"values": [20,40,60,80,100], "title": "Cumulative survival rate(%)", "titleFontSize": 14, "labelFontSize": 14, "tickSize": 4, "tickWidth": 1.5, "labelPadding": 4, "titlePadding": 16, "offset": -5}},
"color": {"field": "g", "type": "nominal", "scale": {"domain": ["plo","phi","nlo","nhi"], "range": ["#4a5ed2","#3cb54a","#ff9a28","#ee3b3b"]}, "legend": {"title": null, "orient": "bottom-left", "offset": 6, "padding": 0, "symbolType": "M-1,0H4.8", "symbolSize": 100, "symbolStrokeWidth": 1.5, "symbolOffset": 18.25, "labelOffset": 23.25, "rowPadding": 5.7, "labelFontSize": 13.5, "labelExpr": "datum.value=='plo'?'HPV+PTOV1 low(n=11)':datum.value=='phi'?'HPV+PTOV1 high(n=18)':datum.value=='nlo'?'HPV-PTOV1 low(n=54)':'HPV-PTOV1 high(n=97)'"}}
}},
{"data": {"name": "cens"}, "transform": [{"filter": "datum.p=='D'"}], "mark": {"type": "tick", "orient": "vertical", "size": 7, "thickness": 1},
"encoding": {"x": {"field": "t", "type": "quantitative"}, "y": {"field": "s", "type": "quantitative"}, "color": {"field": "g", "type": "nominal"}}},
{"data": {"values": [{}]}, "mark": {"type": "text", "font": "Liberation Sans", "fontSize": 17, "fontWeight": "bold", "align": "center", "baseline": "alphabetic", "color": "black"},
"encoding": {"x": {"datum": -15.9}, "y": {"datum": 107.6}, "text": {"value": "D"}}},
{"data": {"values": [{}]}, "mark": {"type": "text", "font": "Liberation Serif", "fontSize": 13, "fontWeight": "bold", "align": "left", "baseline": "middle", "color": "black"},
"encoding": {"x": {"datum": 2.0}, "y": {"datum": 49.5}, "text": {"value": "P=0.004"}}}
]},
{"width": 314, "height": 208, "title": {"text": "N0", "dx": -12, "offset": -4},
"layer": [
{"data": {"values": [{}]}, "mark": {"type": "rect", "filled": false, "stroke": "black", "strokeWidth": 3},
"encoding": {"x": {"datum": -0.45}, "x2": {"datum": 99.65}, "y": {"datum": 6}, "y2": {"datum": 105}}},
{"data": {"name": "km"}, "transform": [{"filter": "datum.p=='E'"}], "mark": {"type": "line", "interpolate": "step-after", "strokeWidth": 1.2},
"encoding": {
"x": {"field": "t", "type": "quantitative", "scale": {"domain": [-8.73, 99.65], "nice": false, "zero": false}, "axis": {"values": [0,20,40,60,80], "title": null, "labelExpr": "datum.value==80?'80 (months)':datum.label", "labelFontSize": {"condition": {"test": "datum.value==0", "value": 12}, "value": 14}, "labelFont": {"condition": {"test": "datum.value==0", "value": "Liberation Serif"}, "value": "Liberation Sans"}, "labelFontWeight": {"condition": {"test": "datum.value==0", "value": "bold"}, "value": "normal"}, "labelAlign": {"condition": {"test": "datum.value==80", "value": "left"}, "value": "center"}, "labelOffset": {"condition": {"test": "datum.value==80", "value": -8}, "value": 0}, "tickSize": -4, "tickWidth": 2, "labelPadding": 7, "labelBaseline": "top"}},
"y": {"field": "s", "type": "quantitative", "scale": {"domain": [6, 105], "nice": false, "zero": false}, "axis": {"values": [20,40,60,80,100], "title": "Cumulative survival rate(%)", "titleFontSize": 14, "labelFontSize": 15.5, "tickSize": 4, "tickWidth": 1.5, "labelPadding": 2, "titlePadding": 14, "offset": -24}},
"color": {"field": "g", "type": "nominal", "scale": {"domain": ["plo","phi","nlo","nhi"], "range": ["#4a5ed2","#3cb54a","#ff9a28","#ee3b3b"]}, "legend": {"title": null, "orient": "bottom-left", "offset": 6, "padding": 0, "symbolType": "M-1,0H5", "symbolSize": 100, "symbolStrokeWidth": 1.5, "symbolOffset": 25.25, "labelOffset": 28.25, "rowPadding": 5.9, "labelFontSize": 13.5, "labelExpr": "datum.value=='plo'?'HPV+PTOV1 low(n=13)':datum.value=='phi'?'HPV+PTOV1 high(n=20)':datum.value=='nlo'?'HPV-PTOV1 low(n=62)':'HPV-PTOV1 high(n=82)'"}}
}},
{"data": {"name": "cens"}, "transform": [{"filter": "datum.p=='E'"}], "mark": {"type": "tick", "orient": "vertical", "size": 7, "thickness": 1},
"encoding": {"x": {"field": "t", "type": "quantitative"}, "y": {"field": "s", "type": "quantitative"}, "color": {"field": "g", "type": "nominal"}}},
{"data": {"values": [{}]}, "mark": {"type": "text", "font": "Liberation Sans", "fontSize": 17, "fontWeight": "bold", "align": "center", "baseline": "alphabetic", "color": "black"},
"encoding": {"x": {"datum": -14.3}, "y": {"datum": 106.7}, "text": {"value": "E"}}},
{"data": {"values": [{}]}, "mark": {"type": "text", "font": "Liberation Serif", "fontSize": 13, "fontWeight": "bold", "align": "left", "baseline": "middle", "color": "black"},
"encoding": {"x": {"datum": 3.3}, "y": {"datum": 54.8}, "text": {"value": "P=0.006"}}}
]},
{"width": 293, "height": 208, "title": {"text": "II stage", "dx": -22.5, "offset": -5},
"layer": [
{"data": {"values": [{}]}, "mark": {"type": "rect", "filled": false, "stroke": "black", "strokeWidth": 3},
"encoding": {"x": {"datum": -0.5}, "x2": {"datum": 98.35}, "y": {"datum": 6}, "y2": {"datum": 105}}},
{"data": {"name": "km"}, "transform": [{"filter": "datum.p=='F'"}], "mark": {"type": "line", "interpolate": "step-after", "strokeWidth": 1.2},
"encoding": {
"x": {"field": "t", "type": "quantitative", "scale": {"domain": [-6.93, 98.35], "nice": false, "zero": false}, "axis": {"values": [0,20,40,60,80], "title": null, "labelExpr": "datum.value==80?'80 (months)':datum.label", "labelFontSize": {"condition": {"test": "datum.value==0", "value": 12}, "value": 14}, "labelFont": {"condition": {"test": "datum.value==0", "value": "Liberation Serif"}, "value": "Liberation Sans"}, "labelFontWeight": {"condition": {"test": "datum.value==0", "value": "bold"}, "value": "normal"}, "labelAlign": {"condition": {"test": "datum.value==80", "value": "left"}, "value": "center"}, "labelOffset": {"condition": {"test": "datum.value==80", "value": -8}, "value": 0}, "tickSize": -4, "tickWidth": 2, "labelPadding": 10, "labelBaseline": "top"}},
"y": {"field": "s", "type": "quantitative", "scale": {"domain": [6, 105], "nice": false, "zero": false}, "axis": {"values": [20,40,60,80,100], "title": "Cumulative survival rate(%)", "titleFontSize": 15, "labelFontSize": 16, "tickSize": 4, "tickWidth": 1.5, "labelPadding": 4, "titlePadding": 29, "offset": -18}},
"color": {"field": "g", "type": "nominal", "scale": {"domain": ["plo","phi","nlo","nhi"], "range": ["#4a5ed2","#3cb54a","#ff9a28","#ee3b3b"]}, "legend": {"title": null, "orient": "bottom-left", "offset": 8, "padding": 0, "symbolType": "M-1,0H5", "symbolSize": 100, "symbolStrokeWidth": 1.5, "symbolOffset": 24.25, "labelOffset": 26.25, "rowPadding": 6.9, "labelFontSize": 13.5, "labelExpr": "datum.value=='plo'?'HPV+PTOV1 low(n=11)':datum.value=='phi'?'HPV+PTOV1 high(n=18)':datum.value=='nlo'?'HPV-PTOV1 low(n=52)':'HPV-PTOV1 high(n=80)'"}}
}},
{"data": {"name": "cens"}, "transform": [{"filter": "datum.p=='F'"}], "mark": {"type": "tick", "orient": "vertical", "size": 7, "thickness": 1},
"encoding": {"x": {"field": "t", "type": "quantitative"}, "y": {"field": "s", "type": "quantitative"}, "color": {"field": "g", "type": "nominal"}}},
{"data": {"values": [{}]}, "mark": {"type": "text", "font": "Liberation Sans", "fontSize": 17, "fontWeight": "bold", "align": "center", "baseline": "alphabetic", "color": "black"},
"encoding": {"x": {"datum": -15.6}, "y": {"datum": 108.1}, "text": {"value": "F"}}},
{"data": {"values": [{}]}, "mark": {"type": "text", "font": "Liberation Serif", "fontSize": 13, "fontWeight": "bold", "align": "left", "baseline": "middle", "color": "black"},
"encoding": {"x": {"datum": 3.8}, "y": {"datum": 54.3}, "text": {"value": "P=0.033"}}}
]}
],
"config": {
"view": {"stroke": null},
"axis": {"domain": false, "grid": false, "tickColor": "black", "labelColor": "black", "titleColor": "black", "labelFont": "Liberation Sans", "titleFont": "Liberation Sans", "titleFontWeight": "normal", "labelOverlap": false, "labelFlush": false},
"legend": {"labelFont": "Liberation Serif", "labelFontWeight": "bold", "labelColor": "black", "labelLimit": 400},
"title": {"font": "Liberation Serif", "fontSize": 17, "fontWeight": "bold", "color": "black", "anchor": "middle", "frame": "group", "baseline": "alphabetic"}
}
}
